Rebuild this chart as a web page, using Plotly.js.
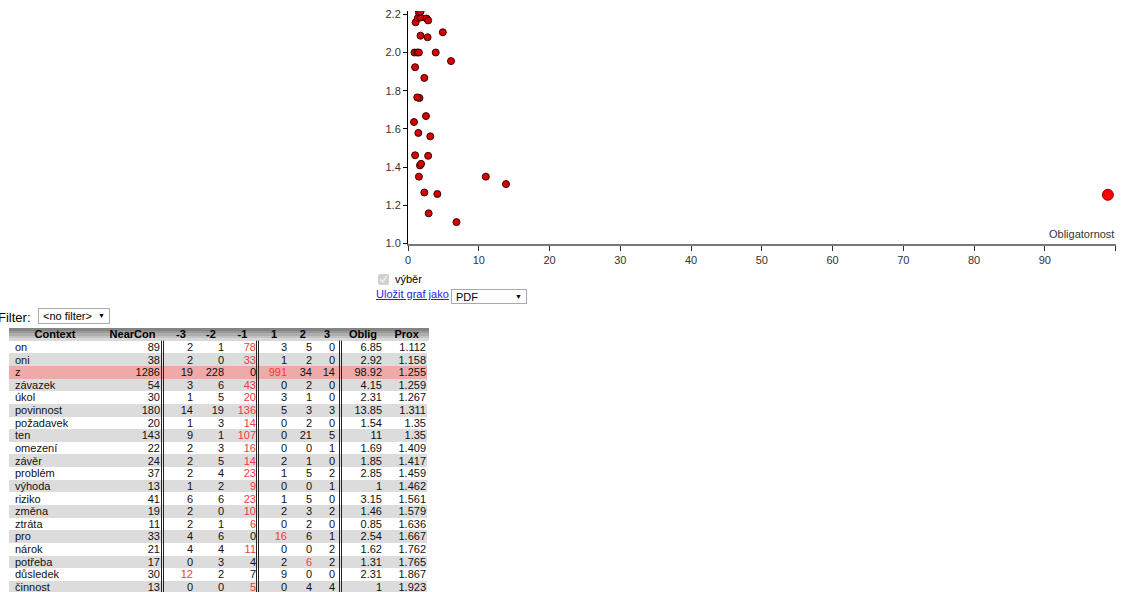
<!DOCTYPE html>
<html>
<head>
<meta charset="utf-8">
<script src="https://cdn.plot.ly/plotly-3.0.1.min.js"></script>
<style>
html,body{margin:0;padding:0;width:1127px;height:592px;overflow:hidden;background:#fff;font-family:Arial,"Liberation Sans",sans-serif;}
#chart{position:absolute;left:0;top:0;width:1127px;height:592px;}
.ctl{position:absolute;font-size:11px;line-height:13px;color:#000;white-space:nowrap;}
.sel{position:absolute;box-sizing:border-box;border:1px solid #a9a9a9;background:#fff;font:11px Arial,"Liberation Sans",sans-serif;color:#000;
     -webkit-appearance:none;appearance:none;border-radius:0;margin:0;padding:0 0 0 4px;outline:none;}
.arrow{position:absolute;font-size:7px;line-height:7px;color:#000;}
</style>
</head>
<body>
<div id="chart"></div>

<div class="ctl" style="left:-2px;top:310px;font-size:13px;line-height:15px;">Filter:</div>
<select class="sel" style="left:38px;top:308px;width:72px;height:16px;"><option>&lt;no filter&gt;</option></select>
<div class="arrow" style="left:98px;top:312px;">▼</div>

<div class="ctl" style="left:377px;top:273px;">
  <input type="checkbox" checked disabled style="width:11px;height:11px;margin:0 6px 0 1px;vertical-align:-2px;">výběr
</div>
<a class="ctl" href="#" style="left:376px;top:288px;color:#2222ee;text-decoration:underline;">Uložit graf jako</a>
<select class="sel" style="left:451px;top:289px;width:76px;height:15px;"><option>PDF</option></select>
<div class="arrow" style="left:515px;top:293px;">▼</div>

<script>
// ---------- data (table rows, sorted by Prox) ----------
const contexts = ["on","oni","z","závazek","úkol","povinnost","požadavek","ten","omezení","závěr",
                  "problém","výhoda","riziko","změna","ztráta","pro","nárok","potřeba","důsledek","činnost"];
const nearCon = [89,38,1286,54,30,180,20,143,22,24,37,13,41,19,11,33,21,17,30,13];
const posM3 = [2,2,19,3,1,14,1,9,2,2,2,1,6,2,2,4,4,0,12,0];
const posM2 = [1,0,228,6,5,19,3,1,3,5,4,2,6,0,1,6,4,3,2,0];
const posM1 = [78,33,0,43,20,136,14,107,16,14,23,9,23,10,6,0,11,4,7,5];
const posP1 = [3,1,991,0,3,5,0,0,0,2,1,0,1,2,0,16,0,2,9,0];
const posP2 = [5,2,34,2,1,3,2,21,0,1,5,0,5,3,2,6,0,6,0,4];
const posP3 = [0,0,14,0,0,3,0,5,1,0,2,1,0,2,0,1,2,2,0,4];
const oblig = [6.85,2.92,98.92,4.15,2.31,13.85,1.54,11,1.69,1.85,2.85,1,3.15,1.46,0.85,2.54,1.62,1.31,2.31,1];
const prox  = [1.112,1.158,1.255,1.259,1.267,1.311,1.35,1.35,1.409,1.417,1.459,1.462,1.561,1.579,1.636,1.667,1.762,1.765,1.867,1.923];
// rows further down the table (not visible)
const moreOblig = [0.92,1.31,1.54,3.92,6.08,1.77,2.77,4.92,1.08,1.38,1.77,2.62,2.85,1.54,1.77];
const moreProx  = [2.0,2.0,2.0,2.0,1.955,2.088,2.08,2.106,2.158,2.18,2.183,2.178,2.168,2.21,2.214];
const selectedContext = "z";
const headerLabels = ["Context","NearCon","-3","-2","-1","1","2","3","Oblig","Prox"];
const xTickVals = [0,10,20,30,40,50,60,70,80,90,100];
const xTickText = ["0","10","20","30","40","50","60","70","80","90",""];

// ---------- layout constants ----------
const W = 1127, H = 592;
const FONT = 'Arial, "Liberation Sans", sans-serif';
const plotLeft = 408, plotRight = 1115.5, plotTop = 11, plotBottom = 243.5;
const yMin = 1.0, yPxPerUnit = 191;
const tableTop = 328, rowPitch = 12.63;
const tableLeft = 9, tableRight = 427, headerRight = 429;
const contextLeftX = 15;
const colRightX = [160,193,224,256,287,312,335,382,426];
const headerCenterX = [55,132.5,181,211,242.5,274,302.7,327,363,406.7];
const doubleLineX = [161.5,163.5,256.5,258.5,339.5,341.5];
const textDy = 0.1;

// ---------- scatter ----------
const allX = oblig.concat(moreOblig);
const allY = prox.concat(moreProx);
const selIdx = contexts.indexOf(selectedContext);
const mSize = allX.map((v,i)=> i===selIdx ? 11 : 7);
const mColor = allX.map((v,i)=> i===selIdx ? '#ff0000' : '#d80000');
const mLine = allX.map((v,i)=> i===selIdx ? '#990000' : '#3a0000');

const traces = [];
traces.push({
  type:'scatter', mode:'markers', x:allX, y:allY, xaxis:'x', yaxis:'y',
  marker:{size:mSize, color:mColor, opacity:1, line:{color:mLine, width:1}},
  hoverinfo:'skip', showlegend:false
});

// ---------- table ----------
const nRows = contexts.length;
const rowY = contexts.map((c,i)=> i+1);
const rowEdges = [];
for (let i=0;i<=nRows;i++) rowEdges.push(i+0.5);
const rowZ = contexts.map((c,i)=> [c===selectedContext ? 2 : (i%2===1 ? 1 : 0)]);
traces.push({
  type:'heatmap', x:[tableLeft, tableRight], y:rowEdges, z:rowZ, xaxis:'x2', yaxis:'y2',
  zmin:0, zmax:2, colorscale:[[0,'#ffffff'],[0.5,'#dcdcdc'],[1,'#f0a9a9']],
  showscale:false, hoverinfo:'skip'
});
// header gradient bands
const hdrEdges = [-0.5,-0.3,-0.1,0.1,0.3,0.5];
traces.push({
  type:'heatmap', x:[tableLeft, headerRight], y:hdrEdges, z:[[0],[1],[2],[3],[4]], xaxis:'x2', yaxis:'y2',
  zmin:0, zmax:4, colorscale:[[0,'#848484'],[1,'#d8d8d8']],
  showscale:false, hoverinfo:'skip'
});
// header text
traces.push({
  type:'scatter', mode:'text', xaxis:'x2', yaxis:'y2',
  x:headerCenterX, y:headerCenterX.map(()=>0+textDy),
  text:headerLabels.map(s=>'<b>'+s+'</b>'), textposition:'middle center',
  textfont:{family:FONT, size:11, color:'#000'}, hoverinfo:'skip', showlegend:false
});
// context column
traces.push({
  type:'scatter', mode:'text', xaxis:'x2', yaxis:'y2',
  x:contexts.map(()=>contextLeftX), y:rowY.map(v=>v+textDy), text:contexts,
  textposition:'middle right', textfont:{family:FONT, size:11, color:'#111'},
  hoverinfo:'skip', showlegend:false
});
// numeric columns
const sixCols = [posM3,posM2,posM1,posP1,posP2,posP3];
const rowMax = contexts.map((c,i)=> Math.max(...sixCols.map(col=>col[i])));
const numCols = [nearCon].concat(sixCols).concat([oblig, prox]);
numCols.forEach((col, ci)=>{
  const isPos = ci>=1 && ci<=6;
  traces.push({
    type:'scatter', mode:'text', xaxis:'x2', yaxis:'y2',
    x:col.map(()=>colRightX[ci]), y:rowY.map(v=>v+textDy), text:col.map(v=>String(v)),
    textposition:'middle left',
    textfont:{family:FONT, size:11, color: col.map((v,i)=> (isPos && v===rowMax[i]) ? '#f23a3a' : '#111')},
    hoverinfo:'skip', showlegend:false
  });
});

const shapes = doubleLineX.map(x=>({
  type:'line', xref:'x2', yref:'y2', x0:x, x1:x, y0:0.5, y1:nRows+1,
  line:{color:'#222', width:1}
}));

const y2Bottom = -0.5 + (H - tableTop)/rowPitch;
const layout = {
  width:W, height:H, margin:{l:0,r:0,t:0,b:0,pad:0}, autosize:false,
  paper_bgcolor:'#ffffff', plot_bgcolor:'rgba(0,0,0,0)',
  font:{family:FONT, size:11, color:'#333'},
  showlegend:false, hovermode:false, dragmode:false,
  xaxis:{
    domain:[plotLeft/W, plotRight/W], range:[0,100], anchor:'y',
    tickmode:'array', tickvals:xTickVals, ticktext:xTickText,
    ticks:'outside', ticklen:5, tickwidth:1, tickcolor:'#333',
    showline:true, linecolor:'#777', linewidth:2, showgrid:false, zeroline:false,
    tickfont:{family:FONT, size:11, color:'#333'}, fixedrange:true
  },
  yaxis:{
    domain:[(H-plotBottom)/H, (H-plotTop)/H],
    range:[yMin, yMin + (plotBottom-plotTop)/yPxPerUnit], anchor:'x',
    tick0:1.0, dtick:0.2, tickformat:'.1f',
    ticks:'outside', ticklen:4, tickwidth:1, tickcolor:'#000',
    showline:true, linecolor:'#000', linewidth:1, showgrid:false, zeroline:false,
    tickfont:{family:FONT, size:11, color:'#333'}, fixedrange:true
  },
  xaxis2:{domain:[0,1], range:[0,W], anchor:'y2', visible:false, fixedrange:true},
  yaxis2:{domain:[0,(H-tableTop)/H], range:[y2Bottom,-0.5], anchor:'x2', visible:false, fixedrange:true},
  annotations:[{
    text:'Obligatornost', xref:'x', x:100, xanchor:'right', yref:'y', y:yMin, yanchor:'bottom', yshift:1,
    showarrow:false, font:{family:FONT, size:11, color:'#333'}
  }],
  shapes:shapes
};

Plotly.newPlot('chart', traces, layout, {displayModeBar:false, staticPlot:true});
</script>
</body>
</html>
